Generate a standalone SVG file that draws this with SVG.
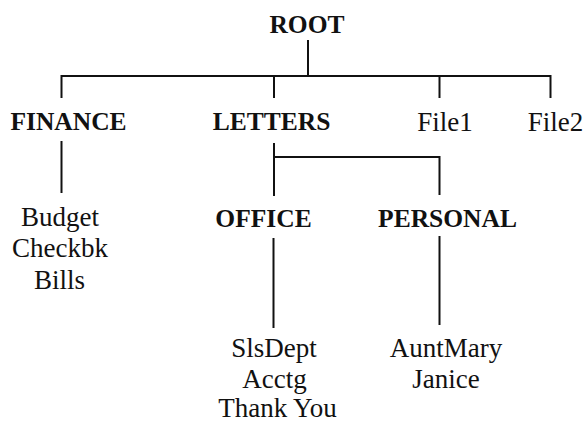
<svg xmlns="http://www.w3.org/2000/svg" width="586" height="424" viewBox="0 0 586 424">
<style>
text{font-family:"Liberation Serif","Times New Roman",serif;fill:#111;text-anchor:middle}
.b{font-weight:bold;font-size:25.5px}
.r{font-size:27px}
.c line,.c path{stroke:#111;stroke-width:2;fill:none}
</style>
<rect width="586" height="424" fill="#fff"/>
<g class="c" id="connectors">
<line x1="308" y1="40" x2="308" y2="76"/>
<line x1="61.5" y1="76" x2="550.5" y2="76"/>
<line x1="61.5" y1="75" x2="61.5" y2="98"/>
<line x1="274" y1="76" x2="274" y2="98"/>
<line x1="439.5" y1="76" x2="439.5" y2="98"/>
<line x1="550.5" y1="75" x2="550.5" y2="98"/>
<line x1="61.5" y1="141" x2="61.5" y2="193"/>
<line x1="274" y1="143" x2="274" y2="196"/>
<path d="M274 157H439.5V195"/>
<line x1="273.5" y1="238" x2="273.5" y2="328"/>
<line x1="439.5" y1="236" x2="439.5" y2="325"/>
</g>
<g id="root"><text class="b" x="307" y="33">ROOT</text></g>
<g id="finance"><text class="b" x="68.5" y="130">FINANCE</text></g>
<g id="letters"><text class="b" x="271.5" y="130">LETTERS</text></g>
<g id="file1"><text class="r" x="445" y="131">File1</text></g>
<g id="file2"><text class="r" x="555.5" y="131">File2</text></g>
<g id="finance-files">
<text class="r" x="60" y="226">Budget</text>
<text class="r" x="60" y="257">Checkbk</text>
<text class="r" x="59.5" y="289">Bills</text>
</g>
<g id="office"><text class="b" x="263.5" y="227">OFFICE</text></g>
<g id="personal"><text class="b" x="447.5" y="227">PERSONAL</text></g>
<g id="office-files">
<text class="r" x="274" y="357">SlsDept</text>
<text class="r" x="274.5" y="387.5">Acctg</text>
<text class="r" x="277.5" y="417">Thank You</text>
</g>
<g id="personal-files">
<text class="r" x="446" y="357">AuntMary</text>
<text class="r" x="446" y="387.5">Janice</text>
</g>
</svg>
